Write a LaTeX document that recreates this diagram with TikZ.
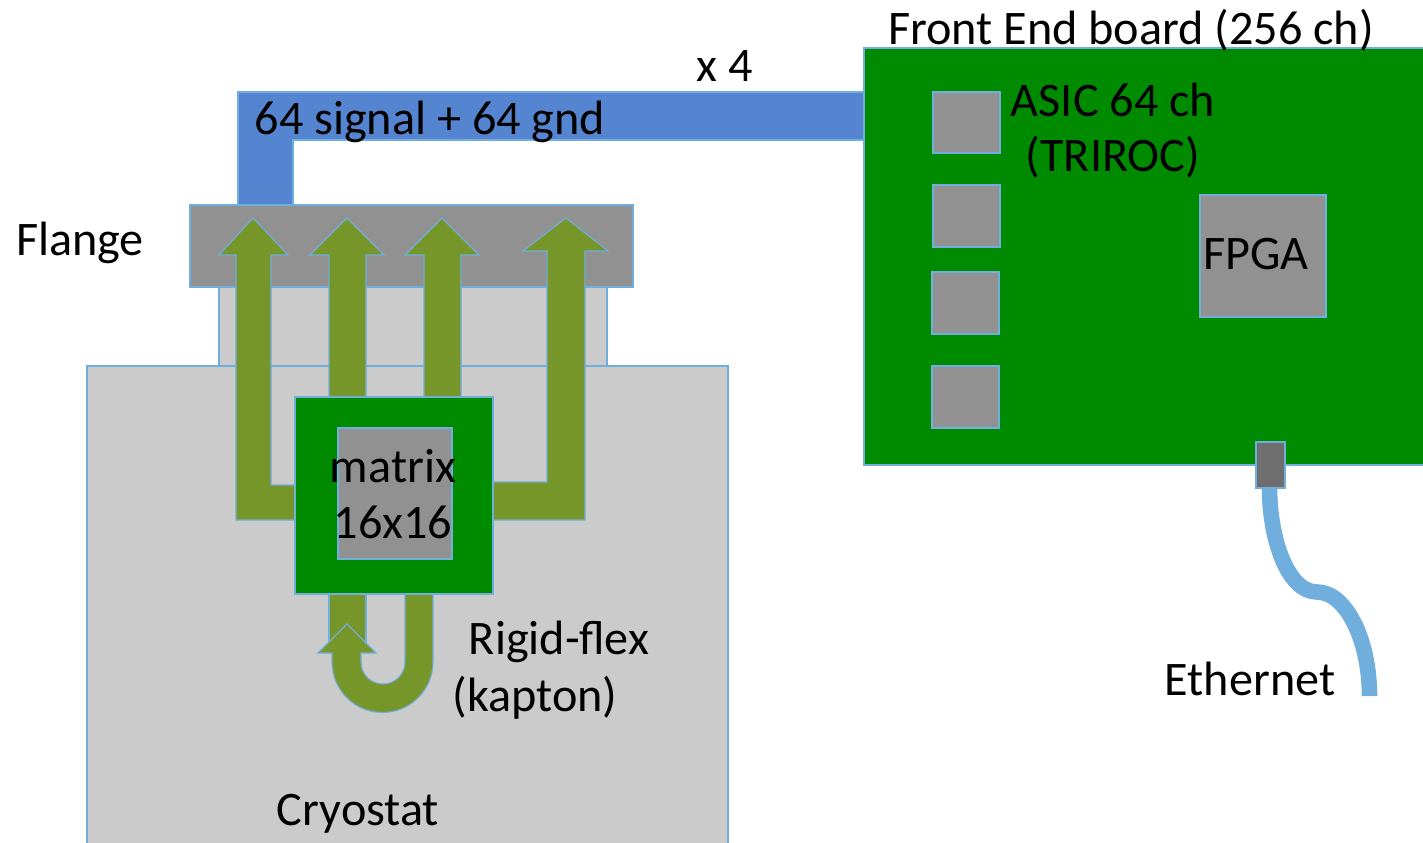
\documentclass[tikz,border=0pt]{standalone}
\usepackage{fontspec}
\setmainfont{Carlito}
\usepackage{xcolor}
\definecolor{edgeblue}{HTML}{6FAEDD}
\definecolor{cableblue}{HTML}{5585D0}
\definecolor{boardgreen}{HTML}{008A00}
\definecolor{flexolive}{HTML}{77962A}
\definecolor{darkchip}{HTML}{919191}
\definecolor{lightcase}{HTML}{CBCBCB}
\definecolor{plugfill}{HTML}{6E6E6E}
\tikzset{
  part/.style={draw=edgeblue, line width=0.55pt},
  label/.style={font=\fontsize{24.1}{29}\selectfont, inner sep=0pt, text=black},
}
\begin{document}
\begin{tikzpicture}[x=0.5pt,y=-0.5pt]
  \path[use as bounding box, clip] (0,0) rectangle (1423,842);
  % cryostat body
  \fill[lightcase, part] (219,287) rectangle (607,366);
  \fill[lightcase, part] (87,366) rectangle (728,846);
  % flange
  \fill[darkchip, part] (190,205) rectangle (633,287);
  % signal cable
  \fill[cableblue, part] (238,205) -- (238,92) -- (864,92) -- (864,140) -- (293,140) -- (293,205) -- cycle;
  % front end board
  \fill[boardgreen, part] (864,48) rectangle (1428,465);
  \fill[darkchip, part] (933,92) rectangle (1000,153);
  \fill[darkchip, part] (933,185) rectangle (1000,247);
  \fill[darkchip, part] (932,272) rectangle (999,334);
  \fill[darkchip, part] (932,366) rectangle (999,428);
  \fill[darkchip, part] (1200,195) rectangle (1326,317);
  % rigid-flex arrows
  \fill[flexolive, part] (236,520) -- (236,255) -- (219,255) -- (253,218) -- (288,255) -- (271,255) -- (271,485) -- (296,485) -- (296,520) -- cycle;
  \fill[flexolive, part] (329,398) -- (329,255) -- (310,255) -- (347,218) -- (384,255) -- (366,255) -- (366,398) -- cycle;
  \fill[flexolive, part] (424,398) -- (424,255) -- (405,255) -- (442,218) -- (479,255) -- (461,255) -- (461,398) -- cycle;
  \fill[flexolive, part] (492,482) -- (547,482) -- (547,251) -- (523,251) -- (566,218) -- (608,251) -- (585,251) -- (585,520) -- (492,520) -- cycle;
  % folded flex below the matrix
  \fill[flexolive, part] (329,593) rectangle (366,645);
  \fill[flexolive, part] (405,593) -- (433,593) -- (433,662) arc[start angle=0, end angle=180, radius=50.5] -- (332,653) -- (318,653) -- (347,624) -- (376,653) -- (361,653) -- (361,662) arc[start angle=180, end angle=0, radius=22] -- cycle;
  % matrix board
  \fill[boardgreen, part] (295,397) rectangle (493,594);
  \fill[darkchip, part] (338,428) rectangle (452,559);
  % ethernet
  \draw[edgeblue, line width=7.8pt] (1269.5,487) .. controls (1269.5,540) and (1288,592) .. (1317,592) .. controls (1346,592) and (1369.5,640) .. (1369.5,696);
  \fill[plugfill, part] (1256,442) rectangle (1285,488);
  % labels
  \node[label] (boardtitle) at (1131,30) {Front End board (256 ch)};
  \node[label] (times) at (725,66) {x 4};
  \node[label] (signal) at (430,122) {64 signal + 64 gnd};
  \node[label] (asic) at (1113,100) {ASIC 64 ch};
  \node[label] (triroc) at (1113,157) {(TRIROC)};
  \node[label] (fpga) at (1256,254) {FPGA};
  \node[label] (flange) at (80,243) {Flange};
  \node[label] (matrix) at (393,466) {matrix};
  \node[label] (size) at (393,522) {16x16};
  \node[label] (rigid) at (559,642) {Rigid-flex};
  \node[label] (kapton) at (535,698) {(kapton)};
  \node[label] (ether) at (1250,678.5) {Ethernet};
  \node[label] (cryo) at (358,814) {Cryostat};
\end{tikzpicture}
\end{document}
